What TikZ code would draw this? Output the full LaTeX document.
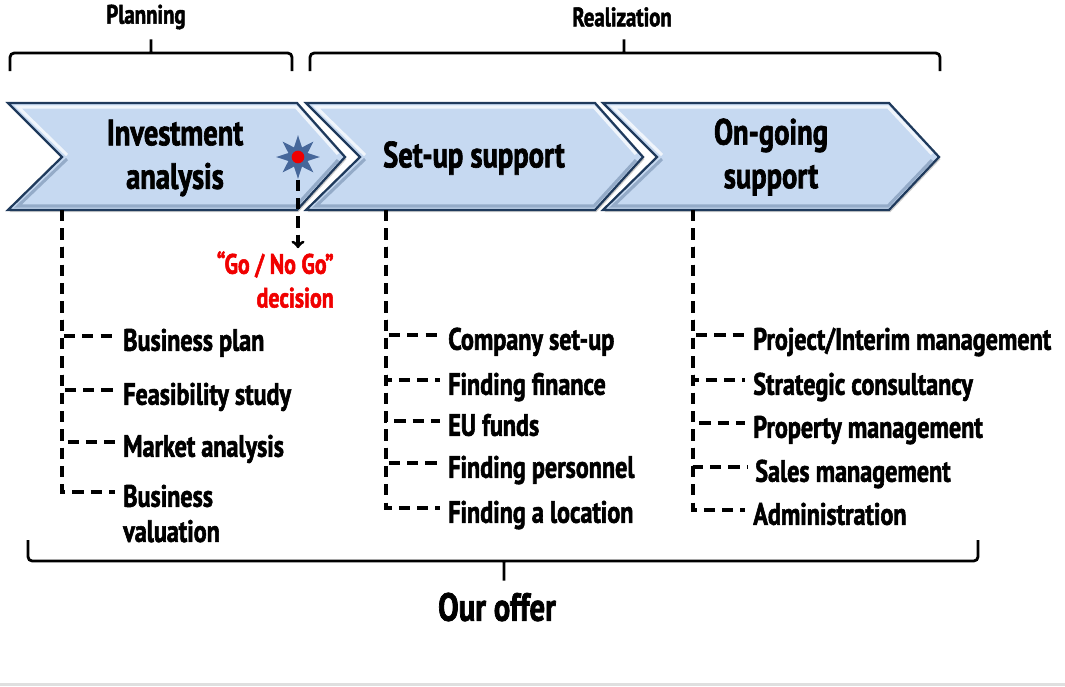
\documentclass[tikz,border=0pt]{standalone}
\usepackage{fontspec}
\newfontfamily\agency{PT Sans Bold}[FakeStretch=0.78, FakeBold=1.8]
\usepackage{xcolor}
\usepackage{tikz}
\usetikzlibrary{arrows, positioning, shapes.geometric, shadows}
\definecolor{chevfill}{HTML}{C6D9F1}
\definecolor{chevline}{HTML}{1F3A5C}
\definecolor{chevlow}{HTML}{7F98B8}
\definecolor{starblue}{HTML}{46679A}
\definecolor{gored}{HTML}{F00000}
\tikzset{
>=to,
chevron/.style={%
    draw=chevline,
    line width=1.6pt,
    fill=chevfill,
    drop shadow={shadow xshift=1pt, shadow yshift=-1.5pt, opacity=0.4}
},
hilite/.style={draw=white, line width=2.2pt, opacity=0.75},
lowlite/.style={draw=chevlow, line width=2.2pt, opacity=0.7},
stage/.style={font=\agency\fontsize{26}{31}\selectfont, align=center, inner sep=0pt},
phase/.style={font=\agency\fontsize{19}{23}\selectfont, inner sep=0pt},
bracket/.style={draw=black, line width=2pt, rounded corners=3pt},
trunk/.style={draw=black, line width=2.2pt, dash pattern=on 8pt off 5pt},
item/.style={%
    anchor=west,
    font=\agency\fontsize{22}{25}\selectfont,
    inner xsep=5.7pt, inner ysep=0pt,
    text height=21pt, text depth=0pt
},
burst/.style={star, star points=8, star point ratio=2.1, fill=starblue, minimum size=31pt, inner sep=0pt},
reddot/.style={circle, fill=gored, minimum size=9pt, inner sep=0pt},
verdict/.style={anchor=north east, align=right, text=gored, font=\agency\fontsize{20}{24}\selectfont, inner sep=0pt},
}

\begin{document}
\begin{tikzpicture}[x=0.025cm, y=-0.025cm]
\useasboundingbox (0,0) rectangle (1065,686);
\fill[gray!25] (0,683) rectangle (1065,686);

% phases
\draw[bracket] (10,71) |- (147,53) .. controls (151,53) .. (151,37) .. controls (151,53) .. (155,53) -| (292,71);
\draw[bracket] (310,71) |- (620,53) .. controls (624,53) .. (624,37) .. controls (624,53) .. (628,53) -| (940,71);
\node[phase] (plan) at (146,17) {Planning};
\node[phase] (real) at (622,17) {Realization};

% stages
\draw[chevron] (8,103) -- (297,103) -- (345,157) -- (297,210) -- (8,210) -- (62,157) -- cycle;
\draw[chevron] (306,103) -- (595,103) -- (643,157) -- (595,210) -- (306,210) -- (360,157) -- cycle;
\draw[chevron] (603,103) -- (889,103) -- (939,157) -- (889,210) -- (603,210) -- (657,157) -- cycle;
\draw[hilite] (67,155) -- (18,107) -- (296,107) -- (338,154);
\draw[lowlite] (67,159) -- (18,206) -- (296,206) -- (338,160);
\draw[hilite] (365,155) -- (316,107) -- (594,107) -- (636,154);
\draw[lowlite] (365,159) -- (316,206) -- (594,206) -- (636,160);
\draw[hilite] (662,155) -- (613,107) -- (888,107) -- (932,154);
\draw[lowlite] (662,159) -- (613,206) -- (888,206) -- (932,160);
\node[stage] (inv) at (175,158) {Investment\\analysis};
\node[stage] (setup) at (474,158) {Set-up support};
\node[stage] (ongo) at (771,157) {On-going\\support};

% decision
\node[burst] (star) at (298,157) {};
\node[reddot] (stardot) at (star) {};
\node[verdict] (go) at (334,251) {“Go / No Go”\\decision};
\draw[trunk, ->, shorten >=2pt] (star.south) -- (star |- go.north);

% investment analysis
\coordinate (c1) at (62,210);
\node[item] (bp) at (115,336) {Business plan};
\node[item] (fs) at (115,390) {Feasibility study};
\node[item] (ma) at (115,442) {Market analysis};
\node[item, align=left, text height=71pt] (bv) at (115,492) {Business\\valuation};

% set-up support
\coordinate (c2) at (386,210);
\node[item] (cs) at (440,335) {Company set-up};
\node[item] (ff) at (440,380) {Finding finance};
\node[item] (eu) at (440,421) {EU funds};
\node[item] (fp) at (440,463) {Finding personnel};
\node[item] (fl) at (440,508) {Finding a location};

% on-going support
\coordinate (c3) at (693,210);
\node[item] (pim) at (745,335) {Project/Interim management};
\node[item] (sc) at (745,380) {Strategic consultancy};
\node[item] (pm) at (745,423) {Property management};
\node[item] (sm) at (747,467) {Sales management};
\node[item] (ad) at (745,510) {Administration};

\draw[trunk] (c1) |- (bp.west);
\draw[trunk] (c1) |- (fs.west);
\draw[trunk] (c1) |- (ma.west);
\draw[trunk] (c1) |- (bv.west);
\draw[trunk] (c2) |- (cs.west);
\draw[trunk] (c2) |- (ff.west);
\draw[trunk] (c2) |- (eu.west);
\draw[trunk] (c2) |- (fp.west);
\draw[trunk] (c2) |- (fl.west);
\draw[trunk] (c3) |- (pim.west);
\draw[trunk] (c3) |- (sc.west);
\draw[trunk] (c3) |- (pm.west);
\draw[trunk] (c3) |- (sm.west);
\draw[trunk] (c3) |- (ad.west);

% offer
\draw[bracket] (28,540) |- (500,561) .. controls (504,561) .. (504,583) .. controls (504,561) .. (508,561) -| (978,540);
\node[stage, font=\agency\fontsize{28}{32}\selectfont] (offer) at (497,607) {Our offer};

\end{tikzpicture}
\end{document}
